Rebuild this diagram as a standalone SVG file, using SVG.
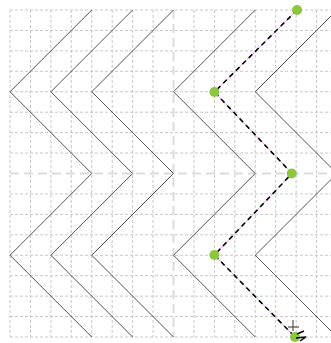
<svg xmlns="http://www.w3.org/2000/svg" width="331" height="343" viewBox="0 0 331 343">
<style>
.grid line{stroke:#c8c8c8;stroke-width:1;stroke-dasharray:3 2;fill:none}
.axis{stroke:#dcdcdc;stroke-width:2;stroke-dasharray:9 5;fill:none}
.zig{stroke:#555;stroke-width:1;fill:none}
.pink{stroke:#f0a0f0;stroke-width:1;fill:none}
.dash{stroke:#000;stroke-width:1.6;stroke-dasharray:5 4;fill:none}
.dot{fill:#8cc63f}
</style>
<rect width="331" height="343" fill="#fff"/>
<g id="grid" class="grid">
<line x1="10" y1="10" x2="10" y2="337"/>
<line x1="30.44" y1="10" x2="30.44" y2="337"/>
<line x1="50.88" y1="10" x2="50.88" y2="337"/>
<line x1="71.31" y1="10" x2="71.31" y2="337"/>
<line x1="91.75" y1="10" x2="91.75" y2="337"/>
<line x1="112.19" y1="10" x2="112.19" y2="337"/>
<line x1="132.63" y1="10" x2="132.63" y2="337"/>
<line x1="153.06" y1="10" x2="153.06" y2="337"/>
<line x1="193.94" y1="10" x2="193.94" y2="337"/>
<line x1="214.38" y1="10" x2="214.38" y2="337"/>
<line x1="234.81" y1="10" x2="234.81" y2="337"/>
<line x1="255.25" y1="10" x2="255.25" y2="337"/>
<line x1="275.69" y1="10" x2="275.69" y2="337"/>
<line x1="296.13" y1="10" x2="296.13" y2="337"/>
<line x1="316.56" y1="10" x2="316.56" y2="337"/>
<line y1="10" x1="10" y2="10" x2="337"/>
<line y1="30.44" x1="10" y2="30.44" x2="337"/>
<line y1="50.88" x1="10" y2="50.88" x2="337"/>
<line y1="71.31" x1="10" y2="71.31" x2="337"/>
<line y1="91.75" x1="10" y2="91.75" x2="337"/>
<line y1="112.19" x1="10" y2="112.19" x2="337"/>
<line y1="132.63" x1="10" y2="132.63" x2="337"/>
<line y1="153.06" x1="10" y2="153.06" x2="337"/>
<line y1="193.94" x1="10" y2="193.94" x2="337"/>
<line y1="214.38" x1="10" y2="214.38" x2="337"/>
<line y1="234.81" x1="10" y2="234.81" x2="337"/>
<line y1="255.25" x1="10" y2="255.25" x2="337"/>
<line y1="275.69" x1="10" y2="275.69" x2="337"/>
<line y1="296.13" x1="10" y2="296.13" x2="337"/>
<line y1="316.56" x1="10" y2="316.56" x2="337"/>
<line y1="337" x1="10" y2="337" x2="337"/>
</g>
<g id="axes">
<line class="axis" x1="173.5" y1="10" x2="173.5" y2="337"/>
<line class="axis" x1="10" y1="173.5" x2="337" y2="173.5"/>
</g>
<g id="zigzags">
<polyline id="zig1" class="zig" points="91.75,10 10,91.75 91.75,173.5 10,255.25 91.75,337"/>
<polyline id="zig2" class="zig" points="132.63,10 50.88,91.75 132.63,173.5 50.88,255.25 132.63,337"/>
<polyline id="zig3" class="zig" points="173.5,10 91.75,91.75 173.5,173.5 91.75,255.25 173.5,337"/>
<polyline id="zig4" class="zig" points="255.25,10 173.5,91.75 255.25,173.5 173.5,255.25 255.25,337"/>
<polyline id="zig5" class="zig" points="337,10 255.25,91.75 337,173.5 255.25,255.25 337,337"/>
</g>
<g id="connectors">
<polyline class="pink" points="297,10 214.4,92 292,173.5 214.4,255 295,337"/>
<polyline class="dash" points="297,10 214.4,92 292,173.5 214.4,255 295,337"/>
</g>
<g id="points">
<circle id="p1" class="dot" cx="297" cy="10" r="5"/>
<circle id="p2" class="dot" cx="214.4" cy="92" r="5"/>
<circle id="p3" class="dot" cx="291.7" cy="173.5" r="5"/>
<circle id="p4" class="dot" cx="214.4" cy="255" r="5"/>
<circle id="p5" class="dot" cx="295" cy="337" r="5"/>
</g>
<g id="cursor" stroke="#333" stroke-width="1" fill="none">
<line x1="293" y1="320" x2="293" y2="331"/>
<line x1="288" y1="327" x2="299" y2="327"/>
<path d="M297,334 L304,331 M296,338 L306,337 L300,341" stroke="#000" stroke-width="1.5"/>
</g>
</svg>
